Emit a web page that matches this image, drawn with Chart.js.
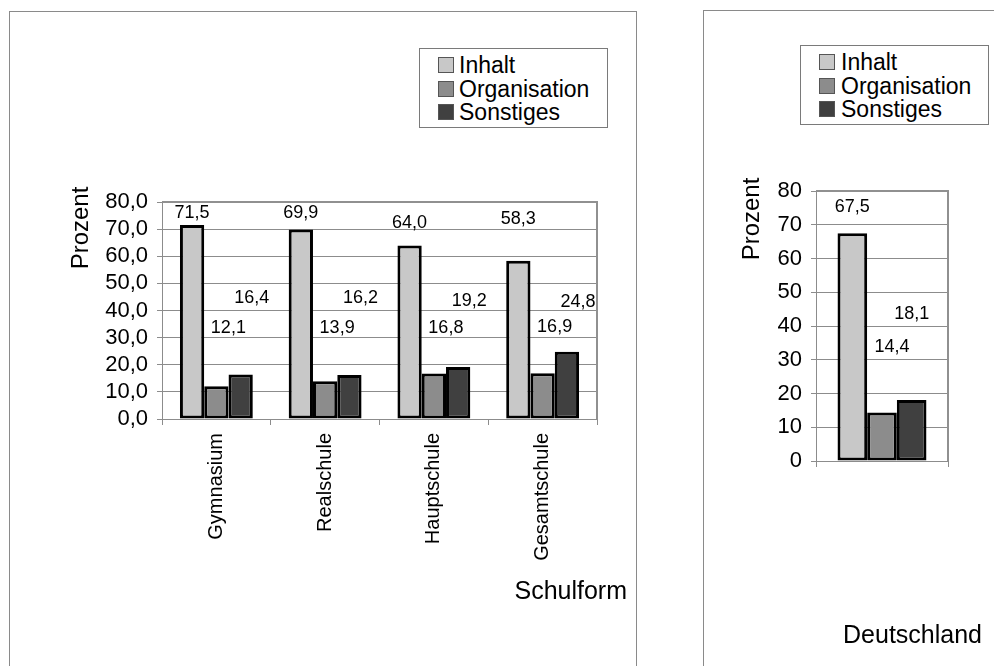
<!DOCTYPE html>
<html>
<head>
<meta charset="utf-8">
<script src="https://cdn.jsdelivr.net/npm/chart.js@4.4.1/dist/chart.umd.min.js"></script>
<style>
  html, body { margin: 0; padding: 0; background: #fff; }
  body { width: 994px; height: 666px; overflow: hidden; position: relative;
         font-family: "Liberation Sans", Arial, sans-serif; }
  .panel { position: absolute; border: 1px solid #8a8a8a; box-sizing: border-box; }
  #panelSchool { left: 9px; top: 11px; width: 628px; height: 720px; }
  #panelDE { left: 703px; top: 10px; width: 340px; height: 720px; }
  canvas { position: absolute; top: 0; }
  #chartSchool { left: 0; }
  #chartDE { left: 700px; }
  .legend { position: absolute; border: 1px solid #7a7a7a; background: #fff; box-sizing: border-box; }
  .legend .item { position: absolute; left: 0; height: 24px; white-space: nowrap; }
  .legend .swatch { position: absolute; top: 4px; width: 16px; height: 16px; box-sizing: border-box;
                    border: 1px solid #555; }
  .legend .label { position: absolute; top: 0; font-size: 23px; line-height: 24px; color: #000; }
</style>
</head>
<body>
<div class="panel" id="panelSchool"></div>
<div class="panel" id="panelDE"></div>
<canvas id="chartSchool" width="640" height="666"></canvas>
<canvas id="chartDE" width="294" height="666"></canvas>
<div class="legend" id="legendSchool" style="left:419px;top:48px;width:189px;height:80px"></div>
<div class="legend" id="legendDE" style="left:800px;top:45px;width:189px;height:80px"></div>

<script>
// Categories and series
const schoolTypes = ['Gymnasium', 'Realschule', 'Hauptschule', 'Gesamtschule'];
const countryLabels = ['Deutschland'];
const seriesNames = ['Inhalt', 'Organisation', 'Sonstiges'];

// Shares in percent by school type
const inhaltSchool = [71.5, 69.9, 64.0, 58.3];
const organisationSchool = [12.1, 13.9, 16.8, 16.9];
const sonstigesSchool = [16.4, 16.2, 19.2, 24.8];

// Shares in percent for Germany overall
const inhaltDE = [67.5];
const organisationDE = [14.4];
const sonstigesDE = [18.1];

// Axis range and tick step
const yMin = 0;
const yMax = 80;
const yStep = 10;

// Styling
const FONT = '"Liberation Sans", Arial, sans-serif';
const fills = ['#c8c8c8', '#8c8c8c', '#404040'];
const gridGray = '#8c8c8c';

// Where each value label sits (axis units) and its horizontal shift per series
const schoolLabelLevels = [[75.9, 75.9, 72.4, 73.6], [33.4, 33.4, 33.4, 34.0], [44.5, 44.5, 43.6, 43.2]];
const schoolLabelShift = [0, 12, 11];
const deLabelLevels = [[75.3], [33.9], [43.6]];
const deLabelShift = [0, 10, 0];

const fmt = (v, d) => v.toFixed(d).replace('.', ',');

function buildLegend(id, textLeft) {
  const box = document.getElementById(id);
  seriesNames.forEach((name, i) => {
    const item = document.createElement('div');
    item.className = 'item';
    item.style.top = (4 + i * 23.5) + 'px';
    const sw = document.createElement('div');
    sw.className = 'swatch';
    sw.style.left = '18px';
    sw.style.background = fills[i];
    const lb = document.createElement('div');
    lb.className = 'label';
    lb.style.left = textLeft + 'px';
    lb.textContent = name;
    item.appendChild(sw);
    item.appendChild(lb);
    box.appendChild(item);
  });
}
buildLegend('legendSchool', 39);
buildLegend('legendDE', 40);

function makeDatasets(values) {
  return values.map((vals, i) => ({
    label: seriesNames[i],
    data: vals,
    backgroundColor: fills[i],
    borderColor: '#000',
    borderWidth: 3,
    borderSkipped: false
  }));
}

// Top and right edge of the plot frame
const plotFrame = {
  id: 'plotFrame',
  afterDraw(chart) {
    const { ctx, chartArea: a } = chart;
    ctx.save();
    ctx.strokeStyle = '#909090';
    ctx.lineWidth = 2;
    ctx.beginPath();
    ctx.moveTo(a.left, a.top);
    ctx.lineTo(a.right, a.top);
    ctx.lineTo(a.right, a.bottom);
    ctx.stroke();
    ctx.restore();
  }
};

function valueLabels(levels, shifts, decimals) {
  return {
    id: 'valueLabels',
    afterDatasetsDraw(chart) {
      const { ctx } = chart;
      const yScale = chart.scales.y;
      ctx.save();
      ctx.fillStyle = '#000';
      ctx.font = '18px ' + FONT;
      ctx.textAlign = 'center';
      ctx.textBaseline = 'middle';
      chart.data.datasets.forEach((ds, i) => {
        const meta = chart.getDatasetMeta(i);
        meta.data.forEach((bar, j) => {
          const y = yScale.getPixelForValue(levels[i][j]);
          ctx.fillText(fmt(ds.data[j], decimals), bar.x + shifts[i], y);
        });
      });
      ctx.restore();
    }
  };
}

function axisTitles(yTitle, yPos, xTitle, xPos) {
  return {
    id: 'axisTitles',
    afterDraw(chart) {
      const { ctx, chartArea: a } = chart;
      ctx.save();
      ctx.fillStyle = '#000';
      ctx.font = '24px ' + FONT;
      ctx.textAlign = 'center';
      ctx.textBaseline = 'middle';
      ctx.translate(yPos[0], a.top + yPos[1]);
      ctx.rotate(-Math.PI / 2);
      ctx.fillText(yTitle, 0, 0);
      ctx.restore();
      ctx.save();
      ctx.fillStyle = '#000';
      ctx.font = '25px ' + FONT;
      ctx.textAlign = 'right';
      ctx.textBaseline = 'middle';
      ctx.fillText(xTitle, a.right + xPos[0], a.bottom + xPos[1]);
      ctx.restore();
    }
  };
}

function makeOptions(pad, yWidth, xHeight, decimals, showCats) {
  return {
    responsive: false,
    animation: false,
    devicePixelRatio: 1,
    layout: { padding: pad },
    plugins: { legend: { display: false }, tooltip: { enabled: false } },
    scales: {
      x: {
        grid: { offset: true, drawOnChartArea: false, drawTicks: true, tickLength: 6, color: gridGray },
        border: { color: gridGray, width: 1 },
        ticks: {
          display: true, autoSkip: false, minRotation: 90, maxRotation: 90, padding: 8,
          color: '#000', font: { family: FONT, size: 20 },
          callback(v) { return showCats ? this.getLabelForValue(v) : ''; }
        },
        afterFit(s) { s.height = xHeight; }
      },
      y: {
        min: yMin, max: yMax,
        grid: { color: gridGray, tickLength: 5, lineWidth: 1 },
        border: { color: gridGray, width: 1 },
        ticks: {
          stepSize: yStep, autoSkip: false, padding: 9, color: '#000', font: { family: FONT, size: 22 },
          callback: (v) => fmt(v, decimals)
        },
        afterFit(s) { s.width = yWidth; }
      }
    }
  };
}

new Chart(document.getElementById('chartSchool'), {
  type: 'bar',
  data: {
    labels: schoolTypes,
    datasets: makeDatasets([inhaltSchool, organisationSchool, sonstigesSchool])
      .map(d => Object.assign(d, { categoryPercentage: 0.67, barPercentage: 1.0 }))
  },
  options: makeOptions({ top: 202, right: 43, bottom: 0, left: 0 }, 162, 247, 1, true),
  plugins: [plotFrame, valueLabels(schoolLabelLevels, schoolLabelShift, 1),
            axisTitles('Prozent', [81, 26], 'Schulform', [30, 173])]
});

new Chart(document.getElementById('chartDE'), {
  type: 'bar',
  data: {
    labels: countryLabels,
    datasets: makeDatasets([inhaltDE, organisationDE, sonstigesDE])
      .map(d => Object.assign(d, { categoryPercentage: 0.674, barPercentage: 1.0 }))
  },
  options: makeOptions({ top: 191, right: 46, bottom: 0, left: 0 }, 116, 205, 0, false),
  plugins: [plotFrame, valueLabels(deLabelLevels, deLabelShift, 1),
            axisTitles('Prozent', [52, 28], 'Deutschland', [34, 175])]
});
</script>
</body>
</html>
